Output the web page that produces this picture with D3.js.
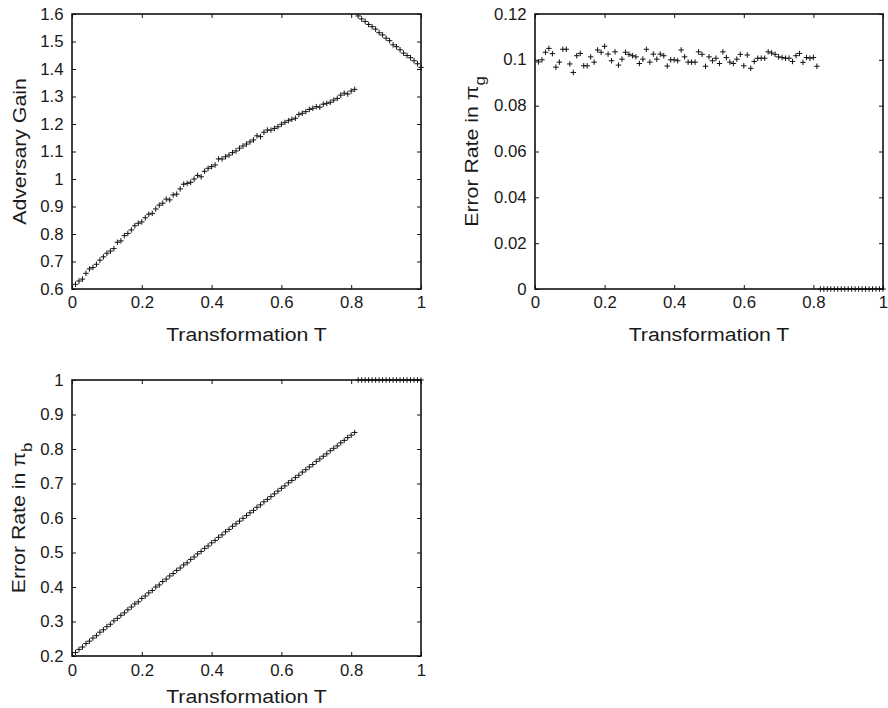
<!DOCTYPE html>
<html>
<head>
<meta charset="utf-8">
<script src="https://cdn.jsdelivr.net/npm/d3@7"></script>
<style>
  body { margin: 0; background: #fff; }
  svg { display: block; }
</style>
</head>
<body>
<div id="chart"></div>
<script>
// sampling grid of the transformation T (0.01 .. 1.00)
const tGrid = d3.range(1, 101).map(i => i / 100);

// Adversary gain (top left)
const gain = [
  0.617, 0.629, 0.636, 0.657, 0.673, 0.678, 0.690, 0.705, 0.717, 0.730,
  0.738, 0.747, 0.770, 0.775, 0.794, 0.802, 0.815, 0.830, 0.839, 0.844,
  0.859, 0.872, 0.875, 0.891, 0.905, 0.912, 0.927, 0.924, 0.942, 0.945,
  0.964, 0.981, 0.984, 0.988, 1.000, 1.013, 1.008, 1.028, 1.039, 1.045,
  1.051, 1.073, 1.073, 1.081, 1.087, 1.096, 1.102, 1.112, 1.120, 1.127,
  1.135, 1.142, 1.157, 1.154, 1.170, 1.178, 1.178, 1.184, 1.190, 1.199,
  1.206, 1.212, 1.217, 1.221, 1.235, 1.239, 1.245, 1.253, 1.257, 1.263,
  1.261, 1.272, 1.275, 1.279, 1.287, 1.293, 1.305, 1.312, 1.309, 1.320,
  1.326, 1.593, 1.582, 1.573, 1.562, 1.554, 1.545, 1.532, 1.524, 1.512,
  1.503, 1.488, 1.481, 1.470, 1.458, 1.449, 1.441, 1.430, 1.419, 1.406
];

// Error rate in pi_g (top right)
const errG = [
  0.0991, 0.1000, 0.1033, 0.1050, 0.1027, 0.0968, 0.0990, 0.1046, 0.1046, 0.0982,
  0.0945, 0.1018, 0.1028, 0.0974, 0.0974, 0.1013, 0.0990, 0.1043, 0.1033, 0.1059,
  0.1025, 0.0996, 0.1035, 0.0977, 0.1003, 0.1033, 0.1024, 0.1018, 0.1013, 0.0984,
  0.1003, 0.1046, 0.0990, 0.1025, 0.1003, 0.1025, 0.1018, 0.0973, 0.1000, 0.1000,
  0.0996, 0.1043, 0.1013, 0.0990, 0.0990, 0.0990, 0.1035, 0.1024, 0.0972, 0.1013,
  0.0996, 0.1007, 0.0984, 0.1035, 0.1010, 0.0990, 0.0984, 0.1003, 0.1024, 0.0974,
  0.1021, 0.0963, 0.0993, 0.1007, 0.1007, 0.1007, 0.1035, 0.1030, 0.1024, 0.1013,
  0.1010, 0.1007, 0.1007, 0.0993, 0.1018, 0.1028, 0.0989, 0.1010, 0.1007, 0.1010,
  0.0972, 0, 0, 0, 0, 0, 0, 0, 0, 0,
  0, 0, 0, 0, 0, 0, 0, 0, 0, 0
];

// Error rate in pi_b (bottom left)
const errB = [
  0.210, 0.219, 0.226, 0.236, 0.243, 0.252, 0.259, 0.269, 0.276, 0.285,
  0.292, 0.302, 0.309, 0.318, 0.325, 0.334, 0.342, 0.351, 0.357, 0.367,
  0.374, 0.383, 0.390, 0.400, 0.406, 0.416, 0.423, 0.432, 0.439, 0.448,
  0.455, 0.464, 0.470, 0.480, 0.487, 0.496, 0.503, 0.512, 0.519, 0.528,
  0.535, 0.544, 0.551, 0.560, 0.567, 0.576, 0.583, 0.591, 0.599, 0.607,
  0.615, 0.622, 0.631, 0.638, 0.647, 0.654, 0.662, 0.670, 0.678, 0.686,
  0.693, 0.702, 0.709, 0.717, 0.724, 0.733, 0.740, 0.748, 0.755, 0.764,
  0.771, 0.779, 0.786, 0.795, 0.802, 0.809, 0.818, 0.825, 0.833, 0.840,
  0.848, 1, 1, 1, 1, 1, 1, 1, 1, 1,
  1, 1, 1, 1, 1, 1, 1, 1, 1, 1
];

const xTicks = [0, 0.2, 0.4, 0.6, 0.8, 1];
const gainTicks = [0.6, 0.7, 0.8, 0.9, 1, 1.1, 1.2, 1.3, 1.4, 1.5, 1.6];
const errGTicks = [0, 0.02, 0.04, 0.06, 0.08, 0.1, 0.12];
const errBTicks = [0.2, 0.3, 0.4, 0.5, 0.6, 0.7, 0.8, 0.9, 1];

const FONT = "'Liberation Sans', Arial, Helvetica, sans-serif";
const fmt = d3.format("~g");

const svg = d3.select("#chart")
    .append("svg")
    .attr("width", 888)
    .attr("height", 708)
    .style("font-family", FONT);

function drawPanel({ left, top, width, height, yDomain, yTicks, values, yLabel, sub, labelX, xLabelY, xPad }) {
    const g = svg.append("g").attr("transform", `translate(${left},${top})`);

    const x = d3.scaleLinear().domain([0, 1]).range([0, width]);
    const y = d3.scaleLinear().domain(yDomain).range([height, 0]);

    // inward ticks on all four sides
    const bottom = g.append("g").attr("transform", `translate(0,${height})`)
        .call(d3.axisBottom(x).tickValues(xTicks).tickFormat(fmt).tickSizeInner(-4).tickSizeOuter(0).tickPadding(xPad));
    const leftAx = g.append("g")
        .call(d3.axisLeft(y).tickValues(yTicks).tickFormat(fmt).tickSizeInner(-4).tickSizeOuter(0).tickPadding(8));
    g.append("g")
        .call(d3.axisTop(x).tickValues(xTicks).tickFormat("").tickSizeInner(-4).tickSizeOuter(0));
    g.append("g").attr("transform", `translate(${width},0)`)
        .call(d3.axisRight(y).tickValues(yTicks).tickFormat("").tickSizeInner(-4).tickSizeOuter(0));

    g.selectAll(".domain").remove();
    g.selectAll(".tick line").attr("stroke", "#111").attr("stroke-width", 1);
    [bottom, leftAx].forEach(a => a.selectAll(".tick text")
        .attr("font-family", FONT)
        .attr("font-size", 16)
        .attr("fill", "#1a1a1a")
        .attr("transform", "scale(1.05,1)"));

    g.append("rect")
        .attr("width", width)
        .attr("height", height)
        .attr("fill", "none")
        .attr("stroke", "#111")
        .attr("stroke-width", 1.6);

    // '+' markers
    g.selectAll(".pt")
        .data(tGrid.map((t, i) => ({ t, v: values[i] })))
        .join("path")
        .attr("class", "pt")
        .attr("transform", d => `translate(${x(d.t)},${y(d.v)})`)
        .attr("d", "M-2.75,0H2.75M0,-2.75V2.75")
        .attr("stroke", "#111")
        .attr("stroke-width", 1);

    // x label
    svg.append("text")
        .attr("transform", `translate(${left + width / 2},${xLabelY}) scale(1.12,1)`)
        .attr("text-anchor", "middle")
        .attr("font-size", 19)
        .attr("fill", "#1a1a1a")
        .text("Transformation T");

    // y label
    const yl = svg.append("text")
        .attr("transform", `translate(${labelX},${top + height / 2}) rotate(-90) scale(1.12,1)`)
        .attr("text-anchor", "middle")
        .attr("font-size", 19)
        .attr("fill", "#1a1a1a");
    yl.append("tspan").text(yLabel);
    if (sub) {
        yl.append("tspan").attr("dy", 7).attr("font-size", 15).text(sub);
    }
}

drawPanel({
    left: 72, top: 14, width: 349, height: 275,
    yDomain: [0.6, 1.6], yTicks: gainTicks, values: gain,
    yLabel: "Adversary Gain", sub: null, labelX: 26, xLabelY: 341, xPad: 8
});

drawPanel({
    left: 535, top: 14, width: 348, height: 275,
    yDomain: [0, 0.12], yTicks: errGTicks, values: errG,
    yLabel: "Error Rate in π", sub: "g", labelX: 478, xLabelY: 341, xPad: 8
});

drawPanel({
    left: 72, top: 380, width: 349, height: 276,
    yDomain: [0.2, 1], yTicks: errBTicks, values: errB,
    yLabel: "Error Rate in π", sub: "b", labelX: 25, xLabelY: 703, xPad: 9
});
</script>
</body>
</html>
